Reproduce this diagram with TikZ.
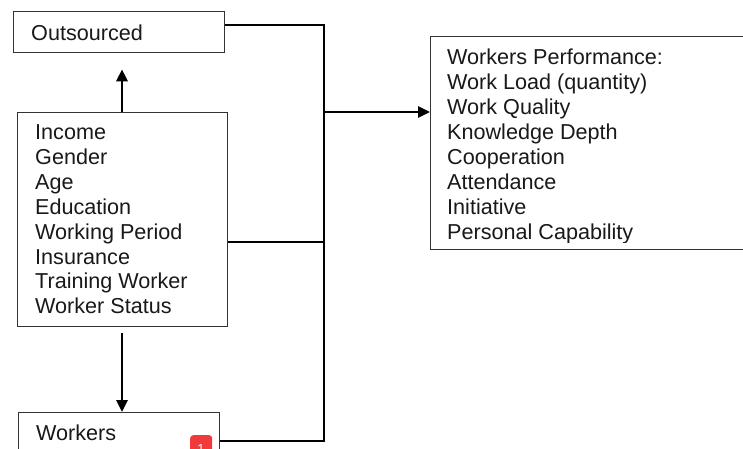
\documentclass[tikz,border=0pt]{standalone}
\usepackage{fontspec}
\setmainfont{Liberation Sans}
\usetikzlibrary{arrows.meta}
\begin{document}
\begin{tikzpicture}[x=1pt,y=1pt,
  boxst/.style={draw=black!80, line width=1.3pt, fill=white, rectangle, inner sep=0pt, anchor=north west},
  txt/.style={anchor=base west, inner sep=0pt, font=\fontsize{21.6}{25}\selectfont, text=black!90},
  conn/.style={line width=2.8pt, black, line join=miter},
  arr/.style={conn, -{Triangle[length=12pt,width=11pt]}}]
\clip (0,0) rectangle (743,-449);
\fill[white] (0,0) rectangle (743,-449);
% boxes
\node[boxst, minimum width=211pt, minimum height=41pt] (out) at (13,-11) {};
\node[boxst, minimum width=210pt, minimum height=214pt] (inc) at (17,-112) {};
\node[boxst, minimum width=201pt, minimum height=60pt] (wrk) at (18,-412) {};
\node[boxst, minimum width=330pt, minimum height=213pt] (wp) at (430,-36) {};
% texts
\node[txt] (tout) at (31,-40.5) {Outsourced};
\foreach \t [count=\k from 0] in {Income,Gender,Age,Education,Working Period,Insurance,Training Worker,Worker Status}
  \node[txt] (ti\k) at (35,{-139.5-24.9*\k}) {\t};
\node[txt] (twrk) at (36,-440) {Workers};
\begin{scope}
\clip (430,-36) rectangle (743,-242);
\foreach \t [count=\k from 0] in {Workers Performance:,Work Load (quantity),Work Quality,Knowledge Depth,Cooperation,Attendance,Initiative,Personal Capability}
  \node[txt] (tw\k) at (447,{-64.3-25.0*\k}) {\t};
\end{scope}
% badge
\node[fill={rgb,255:red,242;green,58;blue,58}, rounded corners=3pt, minimum width=22pt, minimum height=26pt, inner sep=0pt, anchor=north west] (badge) at (190,-435) {};
\node[text=white, font=\fontsize{13}{15}\selectfont, anchor=base, inner sep=0pt] (bnum) at (201,-453) {1};
% bus coordinates
\coordinate (btop) at (324,-25);
\coordinate (bmid) at (324,-242);
\coordinate (barr) at (324,-112);
\coordinate (bbot) at (324,-441);
% connectors
\draw[conn] ([yshift=-14pt]out.north east) -- (btop) -- (bbot) -- ([yshift=-29pt]wrk.north east);
\draw[conn] ([yshift=-130pt]inc.north east) -- (bmid);
\draw[arr] (barr) -- (barr -| wp.west);
\draw[arr, shorten >=16pt] (inc.north -| 122,0) -- (out.south -| 122,0);
\draw[arr, shorten <=6pt] (inc.south -| 122,0) -- (wrk.north -| 122,0);
\end{tikzpicture}
\end{document}
